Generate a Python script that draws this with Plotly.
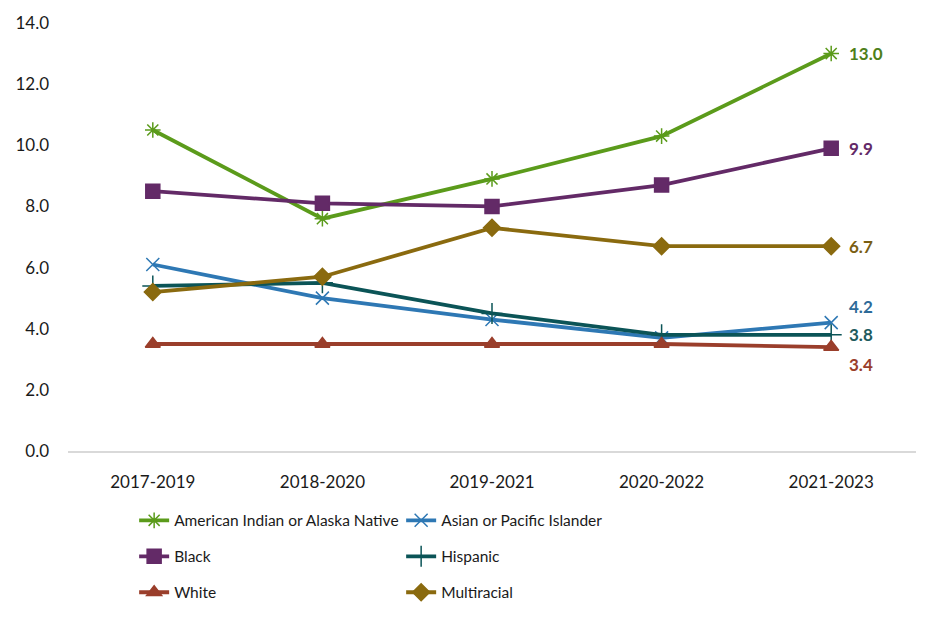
import plotly.graph_objects as go

periods = ["2017-2019", "2018-2020", "2019-2021", "2020-2022", "2021-2023"]
aian = [10.5, 7.6, 8.9, 10.3, 13.0]
api = [6.1, 5.0, 4.3, 3.7, 4.2]
black = [8.5, 8.1, 8.0, 8.7, 9.9]
hispanic = [5.4, 5.5, 4.5, 3.8, 3.8]
white = [3.5, 3.5, 3.5, 3.5, 3.4]
multiracial = [5.2, 5.7, 7.3, 6.7, 6.7]

FONT = "Lato"

series = [
    ("American Indian or Alaska Native", aian, "#5B9B1B", "asterisk-open", 13, "#4E7F1A", "legend", 0),
    ("Asian or Pacific Islander", api, "#2E78B4", "x-thin-open", 13, "#2D6A98", "legend", 16),
    ("Black", black, "#632A67", "square", 14, "#632A67", "legend2", 0),
    ("Hispanic", hispanic, "#0B5457", "cross-thin-open", 15, "#1E5B5E", "legend2", 0),
    ("White", white, "#9A3E2B", "triangle-up", 13, "#9A3E2B", "legend3", -17),
    ("Multiracial", multiracial, "#8A6A0F", "diamond", 13, "#7A5E12", "legend3", 0),
]

fig = go.Figure()
for name, vals, color, sym, size, lblcol, leg, yshift in series:
    fig.add_trace(go.Scatter(
        x=periods, y=vals, name=name, mode="lines+markers",
        line=dict(color=color, width=3.8),
        marker=dict(symbol=sym, size=size, color=color, line=dict(color=color, width=1.5)),
        legend=leg,
    ))
    fig.add_annotation(
        x=periods[-1], y=vals[-1], text=f"<b>{vals[-1]:.1f}</b>",
        xanchor="left", yanchor="middle", xshift=16, yshift=yshift,
        showarrow=False, font=dict(family=FONT, size=17, color=lblcol),
    )

legcommon = dict(orientation="h", x=0.078, xanchor="left", yanchor="middle",
                 entrywidth=222, entrywidthmode="pixels",
                 font=dict(family=FONT, size=15.5, color="#1a1a1a"),
                 bgcolor="rgba(0,0,0,0)", itemwidth=30)

fig.update_layout(
    width=936, height=622,
    margin=dict(l=68, r=20, t=21, b=167),
    paper_bgcolor="white", plot_bgcolor="white",
    font=dict(family=FONT, size=17, color="#1a1a1a"),
    xaxis=dict(type="category", showgrid=False, showline=True, linecolor="#d9d9d9",
               linewidth=1.5, ticks="", tickfont=dict(size=17), range=[-0.5, 4.5],
               ticklabelstandoff=15),
    yaxis=dict(range=[0, 14], dtick=2, tickformat=".1f", showgrid=False,
               zeroline=False, showline=False, tickfont=dict(size=17), ticks="",
               ticklabelstandoff=18),
    legend=dict(legcommon, y=-0.163),
    legend2=dict(legcommon, y=-0.247),
    legend3=dict(legcommon, y=-0.331),
)

fig.write_html("out.html")
